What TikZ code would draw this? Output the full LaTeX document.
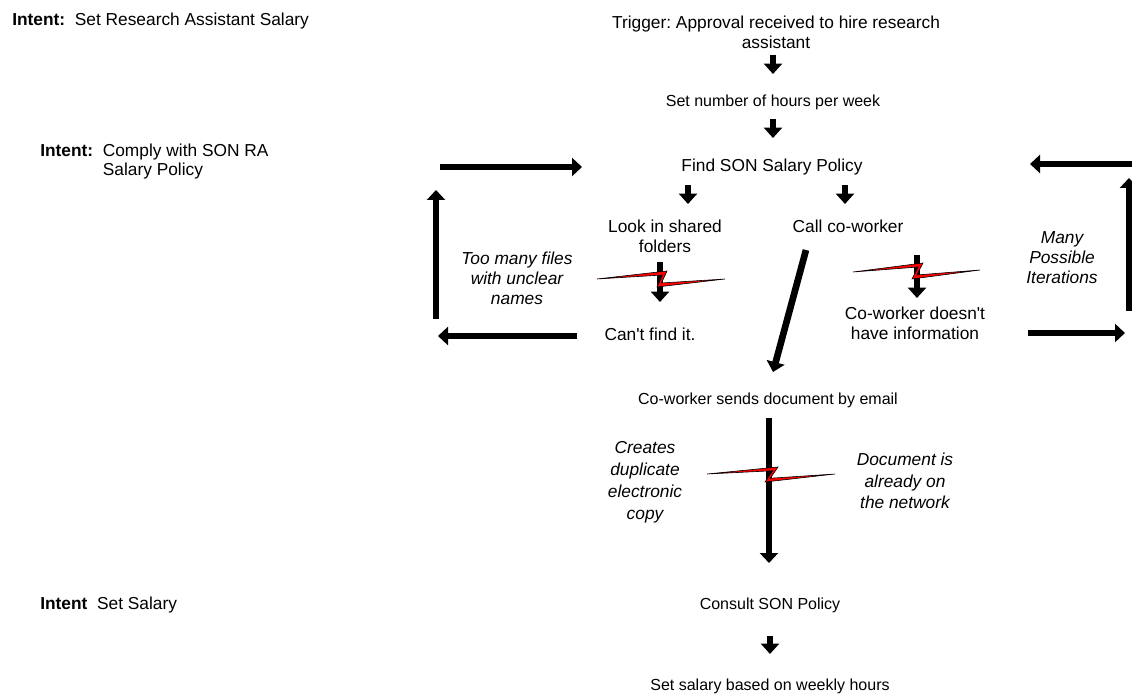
\documentclass[tikz,border=0pt]{standalone}
\usepackage{fontspec}
\setmainfont{Liberation Sans}[Ligatures=TeXOff]
\usetikzlibrary{arrows.meta}
\frenchspacing
\newcommand\fbig{\fontsize{13}{15}\selectfont}
\newcommand\fsmall{\fontsize{12}{15}\selectfont}
\tikzset{
  txt/.style={inner sep=0pt, align=center, font=\fbig},
  stxt/.style={inner sep=0pt, align=center, font=\fsmall},
  itxt/.style={inner sep=0pt, align=center, font=\fbig\itshape},
  sarr/.style={line width=4.8pt, -{Triangle[width=13.5pt,length=7.8pt]}},
  larr/.style={line width=5pt, -{Triangle[width=13.5pt,length=7.5pt]}},
  bolt/.style={fill=red, draw=black, line width=0.45pt, line join=miter}
}
\begin{document}
\begin{tikzpicture}[x=0.75pt,y=-0.75pt]
\useasboundingbox (0,0) rectangle (1132,695);

% intents
\node[txt, anchor=west] (i1) at (12,21) {\textbf{Intent:}\ \ Set Research Assistant Salary};
\node[txt, anchor=west, align=left] (i2) at (40,162) {\begin{tabular}{@{}l@{\ \ }l@{}}\textbf{Intent:} & Comply with SON RA\\[-1pt] & Salary Policy\end{tabular}};
\node[txt, anchor=west] (i3) at (40,605) {\textbf{Intent}\ \ Set Salary};

% main flow texts
\node[txt] (trig) at (776,32) {Trigger: Approval received to hire research\\ assistant};
\node[stxt] (hours) at (773,102) {Set number of hours per week};
\node[txt] (find) at (772,167) {Find SON Salary Policy};
\node[txt] (look) at (665,236) {Look in shared\\ folders};
\node[txt] (call) at (848,226) {Call co-worker};
\node[txt] (cant) at (650,334) {Can't find it.};
\node[txt] (cwno) at (915,323) {Co-worker doesn't\\ have information};
\node[itxt] (many) at (1062,258) {Many\\ Possible\\ Iterations};
\node[itxt] (toomany) at (517,278) {Too many files\\ with unclear\\ names};
\node[stxt] (sends) at (768,400) {Co-worker sends document by email};
\node[itxt, font=\fontsize{13}{16.5}\selectfont\itshape] (creates) at (645,482) {Creates\\ duplicate\\ electronic\\ copy};
\node[itxt, font=\fontsize{13}{16}\selectfont\itshape] (docnet) at (905,481) {Document is\\ already on\\ the network};
\node[stxt] (consult) at (770,605) {Consult SON Policy};
\node[stxt] (setsal) at (770,686) {Set salary based on weekly hours};

% arrow end points
\coordinate (a1s) at (773,55);  \coordinate (a1e) at (773,74);
\coordinate (a2s) at (773,119); \coordinate (a2e) at (773,138);
\coordinate (a3s) at (688,185); \coordinate (a3e) at (688,204);
\coordinate (a4s) at (845,185); \coordinate (a4e) at (845,204);
\coordinate (a5s) at (660,262); \coordinate (a5e) at (660,302);
\coordinate (a6s) at (917,255); \coordinate (a6e) at (917,298);
\coordinate (dgs) at (806,250); \coordinate (dge) at (773,372);
\coordinate (mvs) at (769,418); \coordinate (mve) at (769,563);
\coordinate (a7s) at (770,636); \coordinate (a7e) at (770,654);
\coordinate (lbs) at (577,336); \coordinate (lbe) at (438,336);
\coordinate (lvs) at (436,319); \coordinate (lve) at (436,190);
\coordinate (lts) at (440,167); \coordinate (lte) at (582,167);
\coordinate (rbs) at (1028,333); \coordinate (rbe) at (1125,333);
\coordinate (rvs) at (1129,311); \coordinate (rve) at (1129,178);
\coordinate (rts) at (1136,164); \coordinate (rte) at (1030,164);

% arrows
\draw[sarr] (a1s) -- (a1e);
\draw[sarr] (a2s) -- (a2e);
\draw[sarr] (a3s) -- (a3e);
\draw[sarr] (a4s) -- (a4e);
\draw[sarr] (a5s) -- (a5e);
\draw[sarr] (a6s) -- (a6e);
\draw[sarr] (a7s) -- (a7e);
\draw[larr] (dgs) -- (dge);
\draw[larr] (mvs) -- (mve);
\draw[larr] (lbs) -- (lbe);
\draw[larr] (lvs) -- (lve);
\draw[larr] (lts) -- (lte);
\draw[larr] (rbs) -- (rbe);
\draw[larr] (rvs) -- (rve);
\draw[larr] (rts) -- (rte);

% lightning bolts
\filldraw[bolt] (597,279) -- (667,271) -- (661.5,283) -- (725,279) -- (657,287) -- (662.5,275) -- cycle;
\filldraw[bolt] (853,272) -- (923,263) -- (916.75,275) -- (980,270) -- (912,279) -- (918.25,267) -- cycle;
\filldraw[bolt] (707,474) -- (778,467) -- (770.25,478.25) -- (835,474) -- (765,482) -- (772.75,470.75) -- cycle;
\end{tikzpicture}
\end{document}
